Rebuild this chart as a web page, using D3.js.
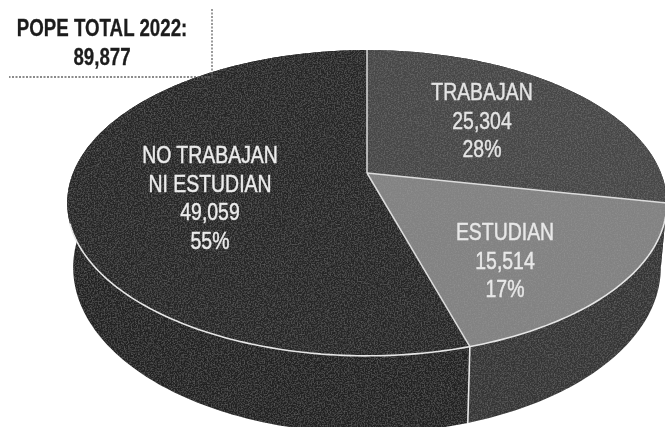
<!DOCTYPE html>
<html lang="es">

<head>
    <meta charset="UTF-8" />
    <title>POPE total 2022</title>
    <script src="https://d3js.org/d3.v7.min.js"></script>
    <style>
        html,
        body {
            margin: 0;
            padding: 0;
            background: #fff;
            overflow: hidden;
        }

        svg {
            display: block;
        }

        text {
            font-family: "Liberation Sans", sans-serif;
            text-anchor: middle;
        }
    </style>
</head>

<body>
    <svg width="665" height="427" viewBox="0 0 665 427"></svg>

    <script>
        const categories = ["TRABAJAN", "ESTUDIAN", "NO TRABAJAN|NI ESTUDIAN"];
        const values = [25304, 15514, 49059];
        const percents = ["28%", "17%", "55%"];
        const titleLines = ["POPE TOTAL 2022:", "89,877"];

        const topColors = ["#464646", "#828282", "#282828"];
        const wallColors = ["#333333", "#343434", "#242424"];
        const labelColors = ["#e4e4e4", "#e8e8e8", "#ececec"];

        const svg = d3.select("svg");
        const format = d3.format(",");

        const defs = svg.append("defs");
        const soft = defs.append("filter").attr("id", "soft")
            .attr("x", 0).attr("y", 0).attr("width", 1).attr("height", 1);
        soft.append("feGaussianBlur").attr("stdDeviation", 0.55);

        // Scanned paper look on the pie
        const grain = defs.append("filter").attr("id", "grain")
            .attr("x", 0).attr("y", 0).attr("width", 1).attr("height", 1);
        grain.append("feTurbulence")
            .attr("type", "fractalNoise").attr("baseFrequency", 0.7)
            .attr("numOctaves", 2).attr("seed", 4).attr("result", "noise");
        grain.append("feColorMatrix").attr("in", "noise").attr("type", "matrix")
            .attr("values", "0 0 0 0 0.55  0 0 0 0 0.55  0 0 0 0 0.55  0.35 0 0 0 -0.14")
            .attr("result", "specks");
        grain.append("feComposite").attr("in", "specks").attr("in2", "SourceAlpha")
            .attr("operator", "in").attr("result", "clipped");
        const merge = grain.append("feMerge");
        merge.append("feMergeNode").attr("in", "SourceGraphic");
        merge.append("feMergeNode").attr("in", "clipped");

        const root = svg.append("g").attr("filter", "url(#soft)");
        const disc = root.append("g").attr("filter", "url(#grain)");

        // Tilted disc: perspective puts the apex above the centre of the ellipse
        const apex = [367, 173];
        const k = -0.196, spanX = 294, spanY = 147, depth = 62, taper = 0.98;

        function project(angle, drop) {
            const u = Math.sin(angle), v = -Math.cos(angle);
            const w = 1 + k * v;
            return [
                apex[0] + spanX * u / w * (drop ? taper : 1),
                apex[1] + spanY * v / w + (drop ? depth / w : 0)
            ];
        }

        const pie = d3.pie().sort(null).value(d => d);
        const arcs = pie(values);

        function rimAngles(a) {
            const n = Math.max(2, Math.ceil((a.endAngle - a.startAngle) * 60));
            return d3.range(n + 1).map(i => a.startAngle + (a.endAngle - a.startAngle) * i / n);
        }

        const line = d3.line();

        // Walls first, the top goes over them
        arcs.forEach((a, i) => {
            const angles = rimAngles(a);
            const pts = angles.map(t => project(t, false))
                .concat(angles.slice().reverse().map(t => project(t, true)));
            disc.append("path")
                .attr("d", line(pts) + "Z")
                .attr("fill", wallColors[i]);
        });

        // Top slices
        arcs.forEach((a, i) => {
            const pts = [apex].concat(rimAngles(a).map(t => project(t, false)));
            disc.append("path")
                .attr("d", line(pts) + "Z")
                .attr("fill", topColors[i]);
        });

        // Seam between the two visible wall parts
        const seam = arcs[1].endAngle;
        root.append("path")
            .attr("d", line([project(seam, false), project(seam, true)]))
            .attr("stroke", "#e8e8e8").attr("stroke-width", 1.6).attr("fill", "none");

        // Light edges
        arcs.forEach(a => {
            root.append("path")
                .attr("d", line([apex, project(a.startAngle, false)]))
                .attr("stroke", "#dcdcdc").attr("stroke-width", 1.5).attr("fill", "none");
        });
        const rimStart = arcs[0].endAngle, rimEnd = Math.PI * 1.395;
        const rimFront = d3.range(0, 141).map(i => rimStart + (rimEnd - rimStart) * i / 140);
        root.append("path")
            .attr("d", line(rimFront.map(t => project(t, false))))
            .attr("stroke", "#e6e6e6").attr("stroke-width", 1.6).attr("fill", "none");

        // Slice labels, the font is squeezed sideways because no narrow face is installed
        function squeezed(x, y, t, sx) {
            return root.append("text")
                .attr("transform", `translate(${x},${y}) scale(${sx},1)`)
                .text(t);
        }

        const labelAnchors = [[482, 100], [505, 240], [210, 163]];
        categories.forEach((c, i) => {
            const lines = c.split("|").concat([format(values[i]), percents[i]]);
            lines.forEach((t, j) => {
                squeezed(labelAnchors[i][0], labelAnchors[i][1] + j * 28.5, t, 0.81)
                    .attr("fill", labelColors[i])
                    .attr("stroke", labelColors[i])
                    .attr("stroke-width", 0.45)
                    .attr("font-size", 24);
            });
        });

        // Title box, only right and bottom edges are dashed
        root.append("path")
            .attr("d", line([[212, 9], [212, 77], [9, 77]]))
            .attr("fill", "none")
            .attr("stroke", "#666")
            .attr("stroke-width", 1.3)
            .attr("stroke-dasharray", "2 1.5");

        titleLines.forEach((t, i) => {
            squeezed(102, 36 + i * 29, t, 0.78)
                .attr("fill", "#1c1c1c")
                .attr("stroke", "#1c1c1c")
                .attr("stroke-width", 0.3)
                .attr("font-size", 24)
                .attr("font-weight", "bold");
        });
    </script>
</body>

</html>
